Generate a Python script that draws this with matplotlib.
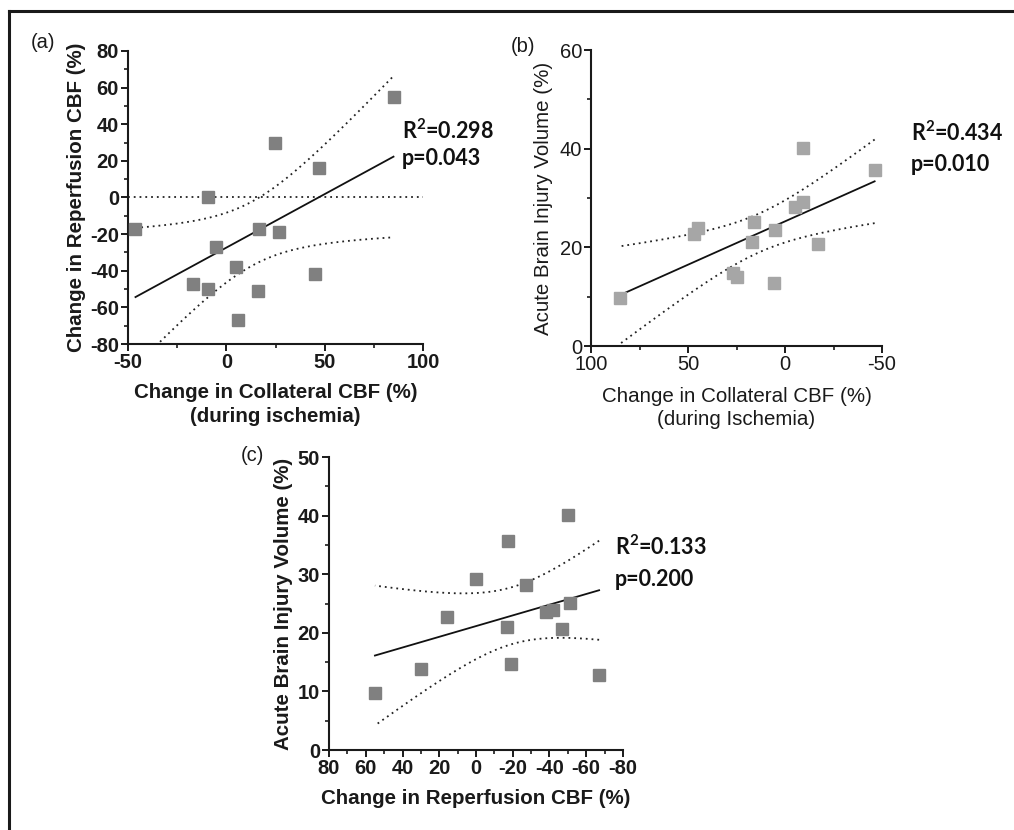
import numpy as np
import matplotlib
matplotlib.use("Agg")
import matplotlib.pyplot as plt
from matplotlib.ticker import MultipleLocator
from matplotlib.lines import Line2D

plt.rcParams["axes.unicode_minus"] = False

# ---- data (one entry per subject) ----
collateral_cbf = [85.0, 47.0, 45.0, 26.8, 24.8, 16.8, 15.9, 5.9, 4.95, -5.1, -9.2, -9.1, -17.05, -46.2]
reperfusion_cbf = [55.0, 16.0, -42.0, -19.0, 29.8, -17.1, -51.0, -67.0, -38.0, -27.1, 0.0, -50.2, -47.0, -17.2]
injury_volume = [9.75, 22.7, 23.9, 14.7, 13.9, 21.0, 25.05, 12.73, 23.6, 28.1, 29.2, 40.1, 20.72, 35.66]

stats_a = ["R$\\mathregular{^2}$=0.298", "p=0.043"]
stats_b = ["R$\\mathregular{^2}$=0.434", "p=0.010"]
stats_c = ["R$\\mathregular{^2}$=0.133", "p=0.200"]

T_CRIT = 2.1788  # t(0.975, df=12)

FIG_W, FIG_H = 1014, 830
fig = plt.figure(figsize=(FIG_W / 100, FIG_H / 100), dpi=100)

def rect(l, t, r, b):
    return [l / FIG_W, 1 - b / FIG_H, (r - l) / FIG_W, (b - t) / FIG_H]

TICK_SIZE = 14.5
LABEL_SIZE = 14.8
INK = "#1a1a1a"

def setup(ax, xlim, ylim, xmaj, xmin, ymaj, ymin, tickweight="bold"):
    ax.set_xlim(*xlim)
    ax.set_ylim(*ylim)
    ax.xaxis.set_major_locator(MultipleLocator(xmaj))
    ax.xaxis.set_minor_locator(MultipleLocator(xmin))
    ax.yaxis.set_major_locator(MultipleLocator(ymaj))
    ax.yaxis.set_minor_locator(MultipleLocator(ymin))
    for s in ["top", "right"]:
        ax.spines[s].set_visible(False)
    for s in ["left", "bottom"]:
        ax.spines[s].set_linewidth(1.5)
        ax.spines[s].set_color(INK)
    ax.tick_params(which="major", length=5, width=1.4, color=INK, pad=1.5)
    ax.tick_params(which="minor", length=3, width=1.2, color=INK)
    for lab in ax.get_xticklabels() + ax.get_yticklabels():
        lab.set_fontfamily("Liberation Sans")
        lab.set_fontsize(TICK_SIZE)
        lab.set_fontweight(tickweight)
        lab.set_color(INK)
    ax.patch.set_alpha(0)

def fit_plot(ax, x, y, color):
    x = np.asarray(x, float)
    y = np.asarray(y, float)
    n = len(x)
    b, a = np.polyfit(x, y, 1)
    xm = x.mean()
    sxx = ((x - xm) ** 2).sum()
    resid = y - (a + b * x)
    s = np.sqrt((resid ** 2).sum() / (n - 2))
    xs = np.linspace(x.min(), x.max(), 200)
    yh = a + b * xs
    se = s * np.sqrt(1 / n + (xs - xm) ** 2 / sxx)
    ax.plot(xs, yh, color="#111111", lw=1.3, zorder=3)
    ax.plot(xs, yh + T_CRIT * se, color="#222222", lw=1.3, ls=(0, (1, 2.2)), zorder=2)
    ax.plot(xs, yh - T_CRIT * se, color="#222222", lw=1.3, ls=(0, (1, 2.2)), zorder=2)
    ax.plot(x, y, ls="none", marker="s", ms=8.3, color=color, mec=color, zorder=4, clip_on=False)

def labels(ax, xl, yl, weight, lp_x, lp_y):
    ax.set_ylabel(yl, family="Liberation Sans", size=LABEL_SIZE, weight=weight, color=INK, labelpad=lp_y)
    ax.set_xlabel(xl, family="Liberation Sans", size=LABEL_SIZE, weight=weight, color=INK,
                  labelpad=lp_x, linespacing=1.3)

# ---- panel (a) ----
axa = fig.add_axes(rect(128, 51, 423, 344))
axa.plot([-50, 100], [0, 0], color="#222222", lw=1.3, ls=(0, (1, 2.2)), zorder=1)
fit_plot(axa, collateral_cbf, reperfusion_cbf, "#808080")
setup(axa, (-50, 100), (-80, 80), 50, 25, 20, 10)
labels(axa, "Change in Collateral CBF (%)\n(during ischemia)", "Change in Reperfusion CBF (%)", "bold", 8, 2.5)

# ---- panel (b) ----
axb = fig.add_axes(rect(591, 50, 882, 346))
fit_plot(axb, collateral_cbf, injury_volume, "#a6a6a6")
setup(axb, (100, -50), (0, 60), 50, 25, 20, 10, tickweight="normal")
labels(axb, "Change in Collateral CBF (%)\n(during Ischemia)", "Acute Brain Injury Volume (%)", "normal", 9, 4.5)

# ---- panel (c) ----
axc = fig.add_axes(rect(329, 457, 623, 750))
fit_plot(axc, reperfusion_cbf, injury_volume, "#808080")
setup(axc, (80, -80), (0, 50), 20, 10, 10, 5)
labels(axc, "Change in Reperfusion CBF (%)", "Acute Brain Injury Volume (%)", "bold", 8, 3)

# ---- stats text ----
STATFONT = dict(family="Lato", size=15.5, weight="bold", color="#111111")
def stats(txts, x, y1, y2):
    fig.text(x / FIG_W, 1 - y1 / FIG_H, txts[0], ha="left", va="baseline", **STATFONT)
    fig.text(x / FIG_W, 1 - y2 / FIG_H, txts[1], ha="left", va="baseline", **STATFONT)

stats(stats_a, 402, 139, 165)
stats(stats_b, 911, 141, 171)
stats(stats_c, 615, 555, 586)

# ---- panel letters ----
PL = dict(family="Liberation Sans", size=14.5, color=INK, va="center", ha="left")
fig.text(31 / FIG_W, 1 - 43 / FIG_H, "(a)", **PL)
fig.text(511 / FIG_W, 1 - 47 / FIG_H, "(b)", **PL)
fig.text(241 / FIG_W, 1 - 455 / FIG_H, "(c)", **PL)

# ---- partial frame (top + left) ----
fig.add_artist(Line2D([9 / FIG_W, 9 / FIG_W], [0, 1 - 11 / FIG_H], color=INK, lw=2.2,
                      transform=fig.transFigure))
fig.add_artist(Line2D([9 / FIG_W, 1], [1 - 11 / FIG_H, 1 - 11 / FIG_H], color=INK, lw=2.2,
                      transform=fig.transFigure))

fig.savefig("out.png", dpi=100, facecolor="white")
